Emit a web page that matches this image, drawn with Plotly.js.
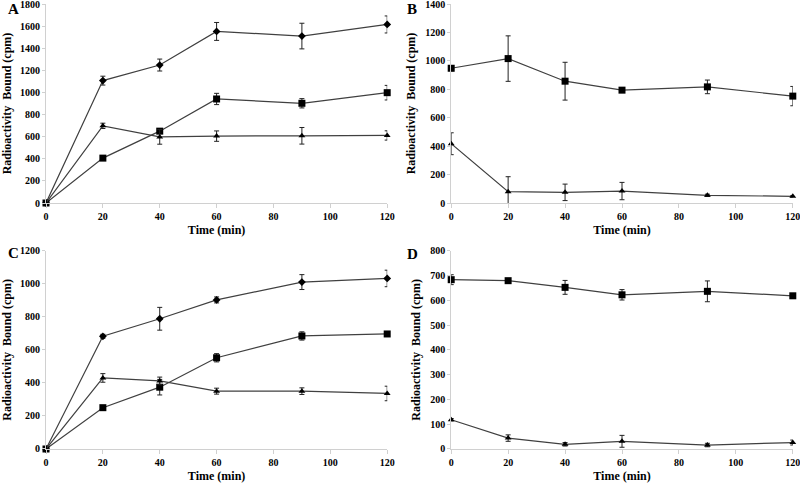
<!DOCTYPE html>
<html>
<head>
<meta charset="utf-8">
<script src="https://cdn.plot.ly/plotly-3.0.1.min.js"></script>
<style>html,body{margin:0;padding:0;background:#fff;}#chart{width:800px;height:483px;}</style>
</head>
<body>
<div id="chart"></div>
<script>
// Time points (min)
const time = [0, 20, 40, 60, 90, 120];
const xTicks = [0, 20, 40, 60, 80, 100, 120];

// Panel A
const aDiamond = [0, 1107, 1248, 1552, 1510, 1615];
const aDiamondErr = [0, 40, 54, 81, 116, 77];
const aSquare = [0, 406, 650, 941, 902, 998];
const aSquareErr = [0, 12, 15, 51, 42, 66];
const aTriangle = [0, 698, 598, 605, 608, 611];
const aTriangleErr = [0, 24, 66, 47, 75, 42];

// Panel B
const bSquare = [948, 1016, 857, 794, 817, 752];
const bSquareErr = [18, 160, 133, 8, 48, 68];
const bTriangle = [417, 80, 75, 84, 54, 47];
const bTriangleErr = [77, 105, 58, 61, 8, 5];

// Panel C
const cDiamond = [0, 682, 788, 902, 1010, 1032];
const cDiamondErr = [0, 12, 69, 18, 45, 50];
const cSquare = [0, 250, 374, 552, 684, 696];
const cSquareErr = [0, 8, 47, 25, 25, 10];
const cTriangle = [0, 430, 412, 350, 350, 336];
const cTriangleErr = [0, 26, 23, 18, 20, 44];

// Panel D
const dSquare = [683, 679, 652, 622, 636, 618];
const dSquareErr = [20, 5, 28, 21, 42, 8];
const dTriangle = [118, 44, 19, 31, 16, 26];
const dTriangleErr = [5, 13, 7, 24, 7, 10];

const yRanges = {A: [0, 1800], B: [0, 1400], C: [0, 1200], D: [0, 800]};
const yDtick = {A: 200, B: 200, C: 200, D: 100};
const panelLabels = ['A', 'B', 'C', 'D'];
const xTitle = 'Time (min)';
const yTitle = 'Radioactivity\u00a0 Bound (cpm)';

const symbolSize = {diamond: 6, square: 7, 'triangle-up': 6};

function tr(y, err, symbol, xa, ya) {
  return {
    x: time, y: y, xaxis: xa, yaxis: ya, type: 'scatter', mode: 'lines+markers',
    line: {color: '#404040', width: 1.2},
    marker: {symbol: symbol, size: symbolSize[symbol], color: '#000'},
    error_y: {type: 'data', array: err, visible: true, color: '#222', thickness: 1, width: 2.5},
    cliponaxis: false, showlegend: false
  };
}

const data = [
  tr(aDiamond, aDiamondErr, 'diamond', 'x', 'y'),
  tr(aSquare, aSquareErr, 'square', 'x', 'y'),
  tr(aTriangle, aTriangleErr, 'triangle-up', 'x', 'y'),
  tr(bSquare, bSquareErr, 'square', 'x2', 'y2'),
  tr(bTriangle, bTriangleErr, 'triangle-up', 'x2', 'y2'),
  tr(cDiamond, cDiamondErr, 'diamond', 'x3', 'y3'),
  tr(cSquare, cSquareErr, 'square', 'x3', 'y3'),
  tr(cTriangle, cTriangleErr, 'triangle-up', 'x3', 'y3'),
  tr(dSquare, dSquareErr, 'square', 'x4', 'y4'),
  tr(dTriangle, dTriangleErr, 'triangle-up', 'x4', 'y4')
];

const fontFam = 'Liberation Serif, Times New Roman, Times, serif';
const tickFont = {family: fontFam, size: 10, color: '#000', weight: 'bold'};
const titleFont = {family: fontFam, size: 12, color: '#000', weight: 'bold'};

function xa(domain, anchor) {
  return {
    domain: domain, anchor: anchor, range: [0, 120], tickvals: xTicks, ticktext: xTicks.map(String),
    showgrid: false, zeroline: false, showline: true, linecolor: '#d0d0d0', linewidth: 1,
    ticks: 'outside', ticklen: 4, tickcolor: '#d0d0d0', tickfont: tickFont,
    ticklabeloverflow: 'allow',
    title: {text: xTitle, font: titleFont, standoff: 4}
  };
}
function ya(domain, anchor, key) {
  return {
    domain: domain, anchor: anchor, range: yRanges[key], dtick: yDtick[key], tick0: 0,
    showgrid: false, zeroline: false, showline: true, linecolor: '#d0d0d0', linewidth: 1,
    ticks: 'outside', ticklen: 3, tickcolor: '#d0d0d0', tickfont: tickFont,
    ticklabeloverflow: 'allow',
    title: {text: yTitle, font: titleFont, standoff: 6}
  };
}

const leftX = [0.0575, 0.484];
const rightX = [0.564, 0.991];
const topY = [0.5797, 0.9917];
const botY = [0.0704, 0.481];

const layout = {
  width: 800, height: 483,
  margin: {l: 0, r: 0, t: 0, b: 0},
  paper_bgcolor: '#fff', plot_bgcolor: '#fff',
  xaxis: xa(leftX, 'y'), yaxis: ya(topY, 'x', 'A'),
  xaxis2: xa(rightX, 'y2'), yaxis2: ya(topY, 'x2', 'B'),
  xaxis3: xa(leftX, 'y3'), yaxis3: ya(botY, 'x3', 'C'),
  xaxis4: xa(rightX, 'y4'), yaxis4: ya(botY, 'x4', 'D'),
  annotations: [
    {text: panelLabels[0], x: 13, y: 9},
    {text: panelLabels[1], x: 412, y: 9},
    {text: panelLabels[2], x: 13, y: 253},
    {text: panelLabels[3], x: 412, y: 254}
  ].map(a => ({
    text: a.text, xref: 'paper', yref: 'paper', x: a.x / 800, y: 1 - a.y / 483,
    xanchor: 'center', yanchor: 'middle', showarrow: false,
    font: {family: fontFam, size: 15, color: '#000', weight: 'bold'}
  }))
};

Plotly.newPlot('chart', data, layout, {staticPlot: true, displayModeBar: false});
</script>
</body>
</html>
